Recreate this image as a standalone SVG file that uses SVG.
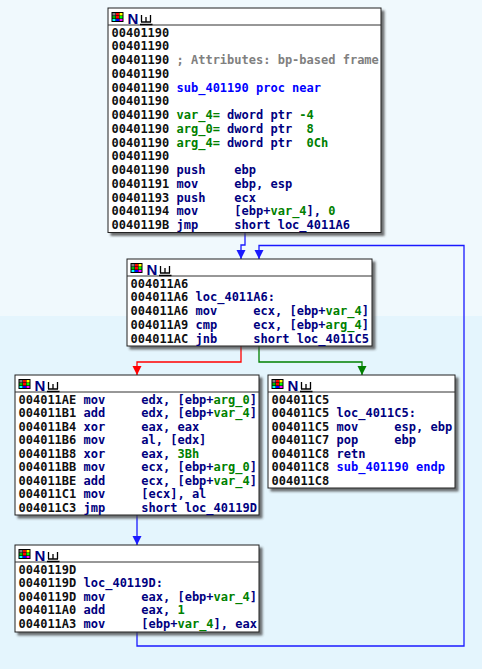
<svg xmlns="http://www.w3.org/2000/svg" width="482" height="669" viewBox="0 0 482 669">
<defs>
<style>
text{font-family:"DejaVu Sans Mono","Liberation Mono",monospace;font-size:12px;font-weight:bold;white-space:pre}
.a{fill:#101010}.m{fill:#000080}.g{fill:#008000}.c{fill:#808080}.b{fill:#0000ff}
.box{fill:#ffffff;stroke:#202020;stroke-width:1;filter:url(#sh)}
.div{stroke:#303030;stroke-width:1}
.nn{font-family:"Liberation Sans",Arial,sans-serif;font-size:15px;font-weight:bold;fill:#000080}
.ic{fill:none;stroke:#000;stroke-width:1.3}
.e{fill:none;stroke-width:1.3}
</style>
<filter id="sh" x="-5%" y="-5%" width="115%" height="120%"><feDropShadow dx="3" dy="3" stdDeviation="1" flood-color="#404040" flood-opacity="0.75"/></filter>
<g id="grid">
<rect x="0" y="0" width="12" height="10" fill="#000"/>
<rect x="1" y="1" width="3" height="2.5" fill="#808080"/><rect x="4.5" y="1" width="3" height="2.5" fill="#ff0000"/><rect x="8" y="1" width="3" height="2.5" fill="#ffff00"/>
<rect x="1" y="4" width="3" height="2.5" fill="#00c000"/><rect x="4.5" y="4" width="3" height="2.5" fill="#ff0000"/><rect x="8" y="4" width="3" height="2.5" fill="#00ff00"/>
<rect x="1" y="7" width="3" height="2" fill="#00ffff"/><rect x="4.5" y="7" width="3" height="2" fill="#0000ff"/><rect x="8" y="7" width="3" height="2" fill="#ff00ff"/>
</g>
<g id="hdr">
<use href="#grid" x="3.5" y="4"/>
<text class="nn" x="19.5" y="15.5">N</text>
<path class="ic" d="M33.5,7V14M38,9V14M42.5,7V14M33,14H43M32,16.5H44.5"/>
</g>
<marker id="ab" viewBox="-10 -6 12 12" refX="0" refY="0" markerWidth="12" markerHeight="12" markerUnits="userSpaceOnUse" orient="auto"><path d="M0,0L-9,-4.5L-9,4.5Z" fill="#1a1aff"/></marker>
<marker id="ar" viewBox="-10 -6 12 12" refX="0" refY="0" markerWidth="12" markerHeight="12" markerUnits="userSpaceOnUse" orient="auto"><path d="M0,0L-9,-4.5L-9,4.5Z" fill="#ff0000"/></marker>
<marker id="ag" viewBox="-10 -6 12 12" refX="0" refY="0" markerWidth="12" markerHeight="12" markerUnits="userSpaceOnUse" orient="auto"><path d="M0,0L-9,-4.5L-9,4.5Z" fill="#008000"/></marker>
</defs>
<rect x="0" y="0" width="482" height="316" fill="#f0f9fd"/>
<rect x="0" y="316" width="482" height="353" fill="#e4f5fd"/>

<g id="connectors">
<path class="e" stroke="#1a1aff" d="M245,232.5V245H241V259" marker-end="url(#ab)"/>
<path class="e" stroke="#1a1aff" d="M137,632V646H464V245.5H259V259" marker-end="url(#ab)"/>
<path class="e" stroke="#ff0000" d="M241,346V362H137V375" marker-end="url(#ar)"/>
<path class="e" stroke="#008000" d="M259,346V362H362V375" marker-end="url(#ag)"/>
<path class="e" stroke="#1a1aff" d="M137,515V545" marker-end="url(#ab)"/>
</g>

<g id="n401190">
<rect class="box" x="108" y="8" width="273" height="224.5"/>
<line class="div" x1="108" y1="25" x2="381" y2="25"/>
<use href="#hdr" x="108" y="8"/>
<text x="111.5" y="36.5"><tspan class="a">00401190</tspan></text>
<text x="111.5" y="50.25"><tspan class="a">00401190</tspan></text>
<text x="111.5" y="64"><tspan class="a">00401190</tspan><tspan class="c"> ; Attributes: bp-based frame</tspan></text>
<text x="111.5" y="77.75"><tspan class="a">00401190</tspan></text>
<text x="111.5" y="91.5"><tspan class="a">00401190</tspan><tspan class="b"> sub_401190 proc near</tspan></text>
<text x="111.5" y="105.25"><tspan class="a">00401190</tspan></text>
<text x="111.5" y="119"><tspan class="a">00401190</tspan><tspan class="g"> var_4=</tspan><tspan class="m"> dword ptr </tspan><tspan class="g">-4</tspan></text>
<text x="111.5" y="132.75"><tspan class="a">00401190</tspan><tspan class="g"> arg_0=</tspan><tspan class="m"> dword ptr  </tspan><tspan class="g">8</tspan></text>
<text x="111.5" y="146.5"><tspan class="a">00401190</tspan><tspan class="g"> arg_4=</tspan><tspan class="m"> dword ptr  </tspan><tspan class="g">0Ch</tspan></text>
<text x="111.5" y="160.25"><tspan class="a">00401190</tspan></text>
<text x="111.5" y="174"><tspan class="a">00401190</tspan><tspan class="m"> push    ebp</tspan></text>
<text x="111.5" y="187.75"><tspan class="a">00401191</tspan><tspan class="m"> mov     ebp, esp</tspan></text>
<text x="111.5" y="201.5"><tspan class="a">00401193</tspan><tspan class="m"> push    ecx</tspan></text>
<text x="111.5" y="215.25"><tspan class="a">00401194</tspan><tspan class="m"> mov     [ebp+</tspan><tspan class="g">var_4</tspan><tspan class="m">], </tspan><tspan class="g">0</tspan></text>
<text x="111.5" y="229"><tspan class="a">0040119B</tspan><tspan class="m"> jmp     short loc_4011A6</tspan></text>
</g>

<g id="n4011A6">
<rect class="box" x="127" y="259" width="245" height="87"/>
<line class="div" x1="127" y1="276" x2="372" y2="276"/>
<use href="#hdr" x="127" y="259"/>
<text x="130.5" y="287.5"><tspan class="a">004011A6</tspan></text>
<text x="130.5" y="301.25"><tspan class="a">004011A6</tspan><tspan class="m"> loc_4011A6:</tspan></text>
<text x="130.5" y="315"><tspan class="a">004011A6</tspan><tspan class="m"> mov     ecx, [ebp+</tspan><tspan class="g">var_4</tspan><tspan class="m">]</tspan></text>
<text x="130.5" y="328.75"><tspan class="a">004011A9</tspan><tspan class="m"> cmp     ecx, [ebp+</tspan><tspan class="g">arg_4</tspan><tspan class="m">]</tspan></text>
<text x="130.5" y="342.5"><tspan class="a">004011AC</tspan><tspan class="m"> jnb     short loc_4011C5</tspan></text>
</g>

<g id="n4011AE">
<rect class="box" x="15" y="375" width="244" height="140"/>
<line class="div" x1="15" y1="392" x2="259" y2="392"/>
<use href="#hdr" x="15" y="375"/>
<text x="18.5" y="403.5"><tspan class="a">004011AE</tspan><tspan class="m"> mov     edx, [ebp+</tspan><tspan class="g">arg_0</tspan><tspan class="m">]</tspan></text>
<text x="18.5" y="417"><tspan class="a">004011B1</tspan><tspan class="m"> add     edx, [ebp+</tspan><tspan class="g">var_4</tspan><tspan class="m">]</tspan></text>
<text x="18.5" y="430.5"><tspan class="a">004011B4</tspan><tspan class="m"> xor     eax, eax</tspan></text>
<text x="18.5" y="444"><tspan class="a">004011B6</tspan><tspan class="m"> mov     al, [edx]</tspan></text>
<text x="18.5" y="457.5"><tspan class="a">004011B8</tspan><tspan class="m"> xor     eax, </tspan><tspan class="g">3Bh</tspan></text>
<text x="18.5" y="471"><tspan class="a">004011BB</tspan><tspan class="m"> mov     ecx, [ebp+</tspan><tspan class="g">arg_0</tspan><tspan class="m">]</tspan></text>
<text x="18.5" y="484.5"><tspan class="a">004011BE</tspan><tspan class="m"> add     ecx, [ebp+</tspan><tspan class="g">var_4</tspan><tspan class="m">]</tspan></text>
<text x="18.5" y="498"><tspan class="a">004011C1</tspan><tspan class="m"> mov     [ecx], al</tspan></text>
<text x="18.5" y="511.5"><tspan class="a">004011C3</tspan><tspan class="m"> jmp     short loc_40119D</tspan></text>
</g>

<g id="n4011C5">
<rect class="box" x="268" y="375" width="187" height="113"/>
<line class="div" x1="268" y1="392" x2="455" y2="392"/>
<use href="#hdr" x="268" y="375"/>
<text x="271.5" y="403.5"><tspan class="a">004011C5</tspan></text>
<text x="271.5" y="417"><tspan class="a">004011C5</tspan><tspan class="m"> loc_4011C5:</tspan></text>
<text x="271.5" y="430.5"><tspan class="a">004011C5</tspan><tspan class="m"> mov     esp, ebp</tspan></text>
<text x="271.5" y="444"><tspan class="a">004011C7</tspan><tspan class="m"> pop     ebp</tspan></text>
<text x="271.5" y="457.5"><tspan class="a">004011C8</tspan><tspan class="m"> retn</tspan></text>
<text x="271.5" y="471"><tspan class="a">004011C8</tspan><tspan class="b"> sub_401190 endp</tspan></text>
<text x="271.5" y="484.5"><tspan class="a">004011C8</tspan></text>
</g>

<g id="n40119D">
<rect class="box" x="15" y="545" width="244" height="87"/>
<line class="div" x1="15" y1="562" x2="259" y2="562"/>
<use href="#hdr" x="15" y="545"/>
<text x="18.5" y="573.5"><tspan class="a">0040119D</tspan></text>
<text x="18.5" y="587"><tspan class="a">0040119D</tspan><tspan class="m"> loc_40119D:</tspan></text>
<text x="18.5" y="600.5"><tspan class="a">0040119D</tspan><tspan class="m"> mov     eax, [ebp+</tspan><tspan class="g">var_4</tspan><tspan class="m">]</tspan></text>
<text x="18.5" y="614"><tspan class="a">004011A0</tspan><tspan class="m"> add     eax, </tspan><tspan class="g">1</tspan></text>
<text x="18.5" y="627.5"><tspan class="a">004011A3</tspan><tspan class="m"> mov     [ebp+</tspan><tspan class="g">var_4</tspan><tspan class="m">], eax</tspan></text>
</g>
</svg>
